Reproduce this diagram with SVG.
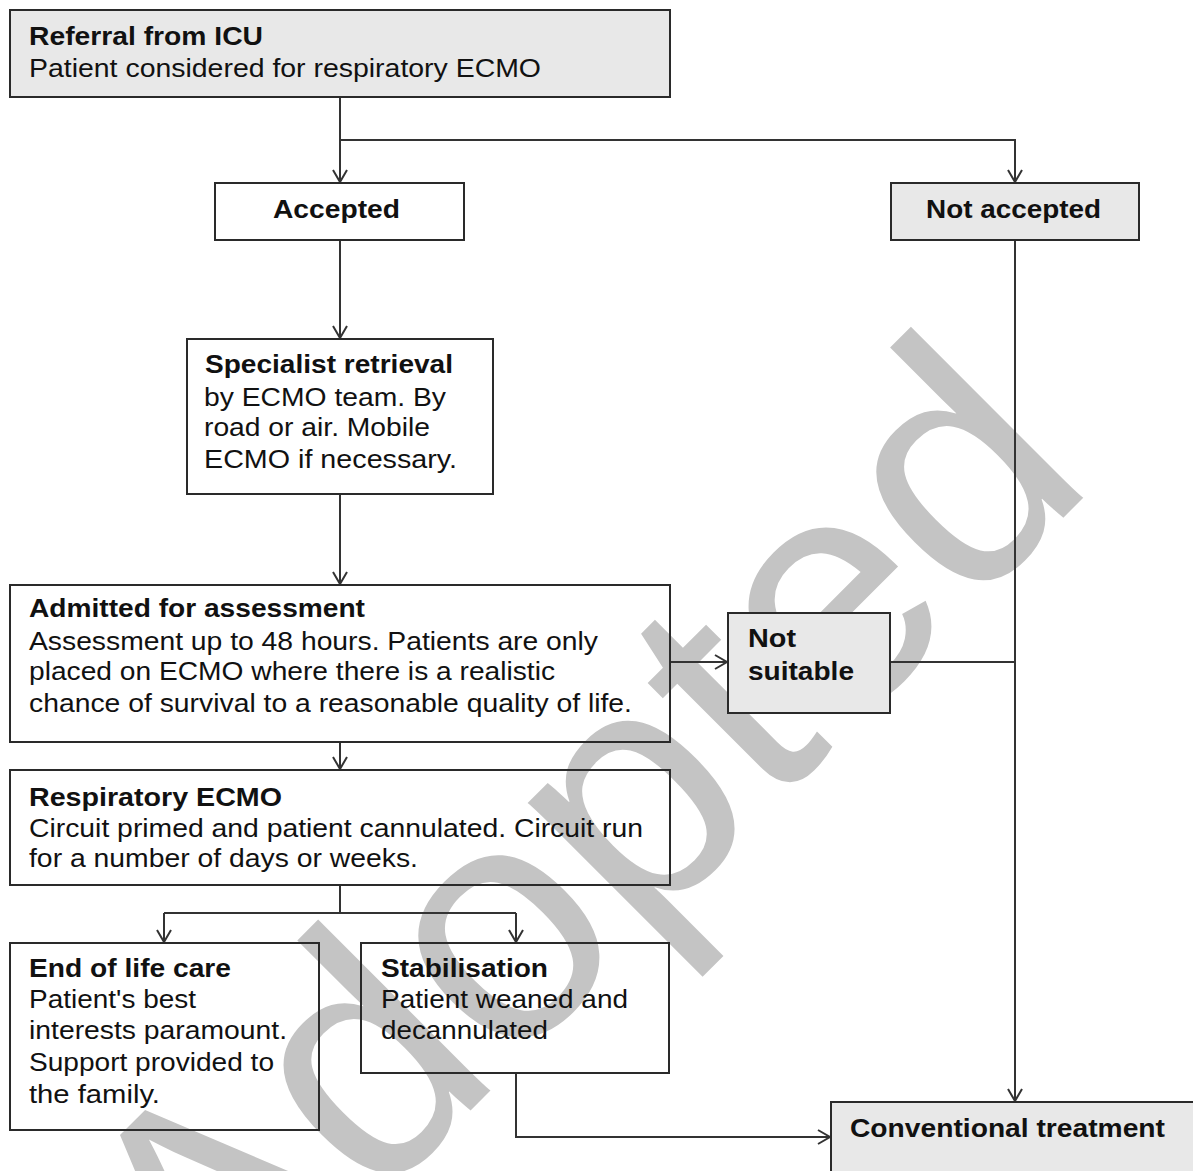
<svg xmlns="http://www.w3.org/2000/svg" width="1193" height="1171" viewBox="0 0 1193 1171">
<style>
.box{stroke:#2a2a2a;stroke-width:2}
.w{fill:none}
.g{fill:#e8e8e8}
.t{font-family:"Liberation Sans",Arial,sans-serif;font-size:26px;fill:#111}
.b{font-weight:bold}
.c{fill:none;stroke:#333;stroke-width:2}
.wm{font-family:"Liberation Sans",Arial,sans-serif;font-size:335px;fill:#c4c4c4}
</style>
<defs>
<marker id="ah" markerUnits="userSpaceOnUse" markerWidth="16" markerHeight="16" refX="13" refY="8" orient="auto">
<path d="M1,1 L13,8 L1,15" fill="none" stroke="#333" stroke-width="2"/>
</marker>
</defs>
<rect width="1193" height="1171" fill="#fff"/>
<text class="wm" transform="translate(216,1365) rotate(-45)">Adopted</text>
<g id="connectors">
<path class="c" d="M340,97 V182" marker-end="url(#ah)"/>
<path class="c" d="M340,140 H1015 V182" marker-end="url(#ah)"/>
<path class="c" d="M340,240 V338" marker-end="url(#ah)"/>
<path class="c" d="M340,494 V584" marker-end="url(#ah)"/>
<path class="c" d="M670,662 H727" marker-end="url(#ah)"/>
<path class="c" d="M890,662 H1015"/>
<path class="c" d="M1015,240 V1101" marker-end="url(#ah)"/>
<path class="c" d="M340,742 V769" marker-end="url(#ah)"/>
<path class="c" d="M340,885 V913"/>
<path class="c" d="M164,913 H516"/>
<path class="c" d="M164,913 V942" marker-end="url(#ah)"/>
<path class="c" d="M516,913 V942" marker-end="url(#ah)"/>
<path class="c" d="M516,1073 V1137 H830" marker-end="url(#ah)"/>
</g>
<g id="referral">
<rect class="box g" x="10" y="10" width="660" height="87"/>
<text class="t b" x="29" y="45" textLength="234" lengthAdjust="spacingAndGlyphs">Referral from ICU</text>
<text class="t" x="29" y="77" textLength="512" lengthAdjust="spacingAndGlyphs">Patient considered for respiratory ECMO</text>
</g>
<g id="accepted">
<rect class="box w" x="215" y="183" width="249" height="57"/>
<text class="t b" x="273" y="218" textLength="127" lengthAdjust="spacingAndGlyphs">Accepted</text>
</g>
<g id="not-accepted">
<rect class="box g" x="891" y="183" width="248" height="57"/>
<text class="t b" x="926" y="218" textLength="175" lengthAdjust="spacingAndGlyphs">Not accepted</text>
</g>
<g id="specialist">
<rect class="box w" x="187" y="339" width="306" height="155"/>
<text class="t b" x="205" y="373" textLength="248" lengthAdjust="spacingAndGlyphs">Specialist retrieval</text>
<text class="t" x="204" y="406" textLength="242" lengthAdjust="spacingAndGlyphs">by ECMO team. By</text>
<text class="t" x="204" y="436" textLength="226" lengthAdjust="spacingAndGlyphs">road or air. Mobile</text>
<text class="t" x="204" y="468" textLength="253" lengthAdjust="spacingAndGlyphs">ECMO if necessary.</text>
</g>
<g id="admitted">
<rect class="box w" x="10" y="585" width="660" height="157"/>
<text class="t b" x="29" y="617" textLength="336" lengthAdjust="spacingAndGlyphs">Admitted for assessment</text>
<text class="t" x="29" y="650" textLength="569" lengthAdjust="spacingAndGlyphs">Assessment up to 48 hours. Patients are only</text>
<text class="t" x="29" y="680" textLength="526" lengthAdjust="spacingAndGlyphs">placed on ECMO where there is a realistic</text>
<text class="t" x="29" y="712" textLength="603" lengthAdjust="spacingAndGlyphs">chance of survival to a reasonable quality of life.</text>
</g>
<g id="not-suitable">
<rect class="box g" x="728" y="613" width="162" height="100"/>
<text class="t b" x="748" y="647" textLength="48" lengthAdjust="spacingAndGlyphs">Not</text>
<text class="t b" x="748" y="680" textLength="106" lengthAdjust="spacingAndGlyphs">suitable</text>
</g>
<g id="respiratory">
<rect class="box w" x="10" y="770" width="660" height="115"/>
<text class="t b" x="29" y="806" textLength="253" lengthAdjust="spacingAndGlyphs">Respiratory ECMO</text>
<text class="t" x="29" y="837" textLength="614" lengthAdjust="spacingAndGlyphs">Circuit primed and patient cannulated. Circuit run</text>
<text class="t" x="29" y="867" textLength="389" lengthAdjust="spacingAndGlyphs">for a number of days or weeks.</text>
</g>
<g id="end-of-life">
<rect class="box w" x="10" y="943" width="309" height="187"/>
<text class="t b" x="29" y="977" textLength="202" lengthAdjust="spacingAndGlyphs">End of life care</text>
<text class="t" x="29" y="1008" textLength="167" lengthAdjust="spacingAndGlyphs">Patient's best</text>
<text class="t" x="29" y="1039" textLength="258" lengthAdjust="spacingAndGlyphs">interests paramount.</text>
<text class="t" x="29" y="1071" textLength="245" lengthAdjust="spacingAndGlyphs">Support provided to</text>
<text class="t" x="29" y="1103" textLength="131" lengthAdjust="spacingAndGlyphs">the family.</text>
</g>
<g id="stabilisation">
<rect class="box w" x="361" y="943" width="308" height="130"/>
<text class="t b" x="381" y="977" textLength="167" lengthAdjust="spacingAndGlyphs">Stabilisation</text>
<text class="t" x="381" y="1008" textLength="247" lengthAdjust="spacingAndGlyphs">Patient weaned and</text>
<text class="t" x="381" y="1039" textLength="167" lengthAdjust="spacingAndGlyphs">decannulated</text>
</g>
<g id="conventional">
<rect class="box g" x="831" y="1102" width="380" height="100"/>
<text class="t b" x="850" y="1137" textLength="315" lengthAdjust="spacingAndGlyphs">Conventional treatment</text>
</g>
</svg>
